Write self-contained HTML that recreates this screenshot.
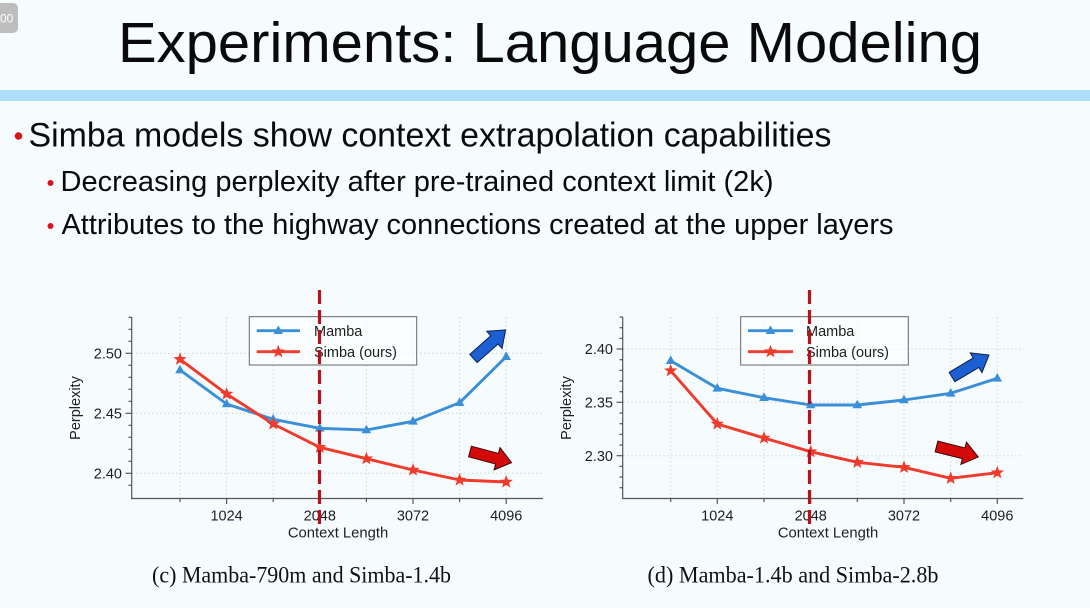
<!DOCTYPE html>
<html>
<head>
<meta charset="utf-8">
<style>
  html,body{margin:0;padding:0;background:#f6fcfe;}
  svg{display:block;}
</style>
</head>
<body>
<svg width="1090" height="608" viewBox="0 0 1090 608" xmlns="http://www.w3.org/2000/svg">
  <defs>
    <path id="star" d="M0,-7 L1.71,-2.35 L6.66,-2.16 L2.77,0.9 L4.11,5.66 L0,2.9 L-4.11,5.66 L-2.77,0.9 L-6.66,-2.16 L-1.71,-2.35 Z" fill="#ef3b2c"/>
    <path id="tri" d="M0,-5.3 L4.8,3.3 L-4.8,3.3 Z" fill="#3b8fd9"/>
    <polygon id="arrow" points="0,-5.5 28,-5.5 28,-11.5 43,0 28,11.5 28,5.5 0,5.5"/>
  </defs>
  <rect width="1090" height="608" fill="#f6fcfe"/>

  <!-- badge -->
  <rect x="-6" y="3" width="24" height="30" rx="5" fill="#bdbdbd"/>
  <text x="0" y="22.5" font-family="Liberation Sans, sans-serif" font-size="12" fill="#ffffff">00</text>

  <!-- title -->
  <text x="118" y="62" font-family="Liberation Sans, sans-serif" font-size="57" fill="#0a0a0a" textLength="864" lengthAdjust="spacingAndGlyphs">Experiments: Language Modeling</text>
  <rect x="0" y="90" width="1090" height="11" fill="#addefb"/>

  <!-- bullets -->
  <circle cx="18.5" cy="136" r="3.8" fill="#d9141b"/>
  <text x="28.5" y="146.7" font-family="Liberation Sans, sans-serif" font-size="34" fill="#0a0a0a" textLength="803" lengthAdjust="spacingAndGlyphs">Simba models show context extrapolation capabilities</text>
  <circle cx="50.5" cy="183" r="3" fill="#d9141b"/>
  <text x="60.5" y="191" font-family="Liberation Sans, sans-serif" font-size="29" fill="#0a0a0a" textLength="713" lengthAdjust="spacingAndGlyphs">Decreasing perplexity after pre-trained context limit (2k)</text>
  <circle cx="50.5" cy="226" r="3" fill="#d9141b"/>
  <text x="61.5" y="234" font-family="Liberation Sans, sans-serif" font-size="29" fill="#0a0a0a" textLength="832" lengthAdjust="spacingAndGlyphs">Attributes to the highway connections created at the upper layers</text>

  <!-- ================= LEFT CHART ================= -->
  <g font-family="Liberation Sans, sans-serif" fill="#1e1e1e">
    <g stroke="#cfd3d6" stroke-width="1" stroke-dasharray="1.5 2.5" fill="none">
      <line x1="132" y1="353.3" x2="543" y2="353.3"/>
      <line x1="132" y1="413.3" x2="543" y2="413.3"/>
      <line x1="132" y1="473.3" x2="543" y2="473.3"/>
      <line x1="180" y1="317" x2="180" y2="498"/>
      <line x1="226.6" y1="317" x2="226.6" y2="498"/>
      <line x1="273.2" y1="317" x2="273.2" y2="498"/>
      <line x1="319.8" y1="317" x2="319.8" y2="498"/>
      <line x1="366.4" y1="317" x2="366.4" y2="498"/>
      <line x1="413" y1="317" x2="413" y2="498"/>
      <line x1="459.6" y1="317" x2="459.6" y2="498"/>
      <line x1="506.2" y1="317" x2="506.2" y2="498"/>
    </g>
    <g stroke="#555" stroke-width="1.2" fill="none">
      <line x1="131.7" y1="317" x2="131.7" y2="498.8"/>
      <line x1="131.1" y1="498.5" x2="543" y2="498.5"/>
      <line x1="128.5" y1="317.3" x2="131.7" y2="317.3"/>
      <line x1="128.5" y1="329.3" x2="131.7" y2="329.3"/>
      <line x1="128.5" y1="341.3" x2="131.7" y2="341.3"/>
      <line x1="125.5" y1="353.3" x2="131.7" y2="353.3"/>
      <line x1="128.5" y1="365.3" x2="131.7" y2="365.3"/>
      <line x1="128.5" y1="377.3" x2="131.7" y2="377.3"/>
      <line x1="128.5" y1="389.3" x2="131.7" y2="389.3"/>
      <line x1="128.5" y1="401.3" x2="131.7" y2="401.3"/>
      <line x1="125.5" y1="413.3" x2="131.7" y2="413.3"/>
      <line x1="128.5" y1="425.3" x2="131.7" y2="425.3"/>
      <line x1="128.5" y1="437.3" x2="131.7" y2="437.3"/>
      <line x1="128.5" y1="449.3" x2="131.7" y2="449.3"/>
      <line x1="128.5" y1="461.3" x2="131.7" y2="461.3"/>
      <line x1="125.5" y1="473.3" x2="131.7" y2="473.3"/>
      <line x1="128.5" y1="485.3" x2="131.7" y2="485.3"/>
      <line x1="180" y1="498.5" x2="180" y2="502"/>
      <line x1="226.6" y1="498.5" x2="226.6" y2="504"/>
      <line x1="273.2" y1="498.5" x2="273.2" y2="502"/>
      <line x1="319.8" y1="498.5" x2="319.8" y2="504"/>
      <line x1="366.4" y1="498.5" x2="366.4" y2="502"/>
      <line x1="413" y1="498.5" x2="413" y2="504"/>
      <line x1="459.6" y1="498.5" x2="459.6" y2="502"/>
      <line x1="506.2" y1="498.5" x2="506.2" y2="504"/>
    </g>
    <g font-size="14.5" text-anchor="end">
      <text x="122" y="358.5">2.50</text>
      <text x="122" y="418.5">2.45</text>
      <text x="122" y="478.5">2.40</text>
    </g>
    <g font-size="14.5" text-anchor="middle">
      <text x="226.6" y="520.5">1024</text>
      <text x="319.8" y="520.5">2048</text>
      <text x="413" y="520.5">3072</text>
      <text x="506.2" y="520.5">4096</text>
      <text x="338" y="537.5" font-size="14.8">Context Length</text>
    </g>
    <text transform="translate(80,408) rotate(-90)" font-size="14.5" text-anchor="middle">Perplexity</text>

    <polyline fill="none" stroke="#3b8fd9" stroke-width="2.9" stroke-linejoin="round"
      points="180,370 226.6,404 273.2,419.3 319.8,428.3 366.4,430 413,421.3 459.6,402.7 506.2,356.7"/>
    <polyline fill="none" stroke="#ef3b2c" stroke-width="2.9" stroke-linejoin="round"
      points="180,359.3 226.6,394 273.2,424 319.8,447.3 366.4,458.7 413,470 459.6,480 506.2,482"/>
    <use href="#tri" x="180" y="370"/><use href="#tri" x="226.6" y="404"/><use href="#tri" x="273.2" y="419.3"/><use href="#tri" x="319.8" y="428.3"/>
    <use href="#tri" x="366.4" y="430"/><use href="#tri" x="413" y="421.3"/><use href="#tri" x="459.6" y="402.7"/><use href="#tri" x="506.2" y="356.7"/>
    <use href="#star" x="180" y="359.3"/><use href="#star" x="226.6" y="394"/><use href="#star" x="273.2" y="424"/><use href="#star" x="319.8" y="447.3"/>
    <use href="#star" x="366.4" y="458.7"/><use href="#star" x="413" y="470"/><use href="#star" x="459.6" y="480"/><use href="#star" x="506.2" y="482"/>

    <rect x="249.3" y="316.7" width="167.4" height="48.3" fill="#ffffff" fill-opacity="0.6" stroke="#666" stroke-width="1"/>
    <line x1="256.7" y1="330.7" x2="300" y2="330.7" stroke="#3b8fd9" stroke-width="2.9"/>
    <use href="#tri" x="278.3" y="330.7"/>
    <line x1="256.7" y1="351.7" x2="300" y2="351.7" stroke="#ef3b2c" stroke-width="2.9"/>
    <use href="#star" x="278.3" y="351.7"/>
    <text x="314" y="336" font-size="14.5">Mamba</text>
    <text x="314" y="357" font-size="14.5">Simba (ours)</text>

    <line x1="319.5" y1="290" x2="319.5" y2="529" stroke="#b5121b" stroke-width="3.2" stroke-dasharray="14 6"/>

    <use href="#arrow" transform="translate(473.5,358.5) rotate(-41.7)" fill="#1b5fd2" stroke="#0d1f4a" stroke-width="1"/>
    <use href="#arrow" transform="translate(470,451.5) rotate(15)" fill="#d40a0a" stroke="#3a0606" stroke-width="1"/>
  </g>

  <!-- ================= RIGHT CHART ================= -->
  <g font-family="Liberation Sans, sans-serif" fill="#1e1e1e">
    <g stroke="#cfd3d6" stroke-width="1" stroke-dasharray="1.5 2.5" fill="none">
      <line x1="623" y1="349" x2="1023" y2="349"/>
      <line x1="623" y1="402.3" x2="1023" y2="402.3"/>
      <line x1="623" y1="455.7" x2="1023" y2="455.7"/>
      <line x1="670.7" y1="317" x2="670.7" y2="498"/>
      <line x1="717.3" y1="317" x2="717.3" y2="498"/>
      <line x1="764" y1="317" x2="764" y2="498"/>
      <line x1="810.7" y1="317" x2="810.7" y2="498"/>
      <line x1="857.3" y1="317" x2="857.3" y2="498"/>
      <line x1="904" y1="317" x2="904" y2="498"/>
      <line x1="950.7" y1="317" x2="950.7" y2="498"/>
      <line x1="997.3" y1="317" x2="997.3" y2="498"/>
    </g>
    <g stroke="#555" stroke-width="1.2" fill="none">
      <line x1="622.7" y1="317" x2="622.7" y2="498.8"/>
      <line x1="622.1" y1="498.5" x2="1023.3" y2="498.5"/>
      <line x1="619.5" y1="317" x2="622.7" y2="317"/>
      <line x1="619.5" y1="327.7" x2="622.7" y2="327.7"/>
      <line x1="619.5" y1="338.3" x2="622.7" y2="338.3"/>
      <line x1="616.5" y1="349" x2="622.7" y2="349"/>
      <line x1="619.5" y1="359.7" x2="622.7" y2="359.7"/>
      <line x1="619.5" y1="370.3" x2="622.7" y2="370.3"/>
      <line x1="619.5" y1="381" x2="622.7" y2="381"/>
      <line x1="619.5" y1="391.7" x2="622.7" y2="391.7"/>
      <line x1="616.5" y1="402.3" x2="622.7" y2="402.3"/>
      <line x1="619.5" y1="413" x2="622.7" y2="413"/>
      <line x1="619.5" y1="423.7" x2="622.7" y2="423.7"/>
      <line x1="619.5" y1="434.3" x2="622.7" y2="434.3"/>
      <line x1="619.5" y1="445" x2="622.7" y2="445"/>
      <line x1="616.5" y1="455.7" x2="622.7" y2="455.7"/>
      <line x1="619.5" y1="466.3" x2="622.7" y2="466.3"/>
      <line x1="619.5" y1="477" x2="622.7" y2="477"/>
      <line x1="619.5" y1="487.7" x2="622.7" y2="487.7"/>
      <line x1="670.7" y1="498.5" x2="670.7" y2="502"/>
      <line x1="717.3" y1="498.5" x2="717.3" y2="504"/>
      <line x1="764" y1="498.5" x2="764" y2="502"/>
      <line x1="810.7" y1="498.5" x2="810.7" y2="504"/>
      <line x1="857.3" y1="498.5" x2="857.3" y2="502"/>
      <line x1="904" y1="498.5" x2="904" y2="504"/>
      <line x1="950.7" y1="498.5" x2="950.7" y2="502"/>
      <line x1="997.3" y1="498.5" x2="997.3" y2="504"/>
    </g>
    <g font-size="14.5" text-anchor="end">
      <text x="613" y="354.2">2.40</text>
      <text x="613" y="407.5">2.35</text>
      <text x="613" y="460.9">2.30</text>
    </g>
    <g font-size="14.5" text-anchor="middle">
      <text x="717.3" y="520.5">1024</text>
      <text x="810.7" y="520.5">2048</text>
      <text x="904" y="520.5">3072</text>
      <text x="997.3" y="520.5">4096</text>
      <text x="828" y="537.5" font-size="14.8">Context Length</text>
    </g>
    <text transform="translate(571,408) rotate(-90)" font-size="14.5" text-anchor="middle">Perplexity</text>

    <polyline fill="none" stroke="#3b8fd9" stroke-width="2.9" stroke-linejoin="round"
      points="670.7,360.7 717.3,388.3 764,397.7 810.7,405 857.3,405 904,400 950.7,393.3 997.3,378.3"/>
    <polyline fill="none" stroke="#ef3b2c" stroke-width="2.9" stroke-linejoin="round"
      points="670.7,370.7 717.3,424 764,438 810.7,451.7 857.3,462.3 904,467.3 950.7,478.3 997.3,472.7"/>
    <use href="#tri" x="670.7" y="360.7"/><use href="#tri" x="717.3" y="388.3"/><use href="#tri" x="764" y="397.7"/><use href="#tri" x="810.7" y="405"/>
    <use href="#tri" x="857.3" y="405"/><use href="#tri" x="904" y="400"/><use href="#tri" x="950.7" y="393.3"/><use href="#tri" x="997.3" y="378.3"/>
    <use href="#star" x="670.7" y="370.7"/><use href="#star" x="717.3" y="424"/><use href="#star" x="764" y="438"/><use href="#star" x="810.7" y="451.7"/>
    <use href="#star" x="857.3" y="462.3"/><use href="#star" x="904" y="467.3"/><use href="#star" x="950.7" y="478.3"/><use href="#star" x="997.3" y="472.7"/>

    <rect x="740.7" y="316.7" width="167.6" height="48.3" fill="#ffffff" fill-opacity="0.6" stroke="#666" stroke-width="1"/>
    <line x1="748" y1="330.7" x2="793" y2="330.7" stroke="#3b8fd9" stroke-width="2.9"/>
    <use href="#tri" x="770.5" y="330.7"/>
    <line x1="748" y1="351.7" x2="793" y2="351.7" stroke="#ef3b2c" stroke-width="2.9"/>
    <use href="#star" x="770.5" y="351.7"/>
    <text x="806" y="336" font-size="14.5">Mamba</text>
    <text x="806" y="357" font-size="14.5">Simba (ours)</text>

    <line x1="809.5" y1="290" x2="809.5" y2="529" stroke="#b5121b" stroke-width="3.2" stroke-dasharray="14 6"/>

    <use href="#arrow" transform="translate(952,377) rotate(-30.7)" fill="#1b5fd2" stroke="#0d1f4a" stroke-width="1"/>
    <use href="#arrow" transform="translate(936.5,446.5) rotate(14)" fill="#d40a0a" stroke="#3a0606" stroke-width="1"/>
  </g>

  <!-- captions -->
  <text x="152" y="582.5" font-family="Liberation Serif, serif" font-size="23" fill="#111" textLength="299" lengthAdjust="spacingAndGlyphs">(c) Mamba-790m and Simba-1.4b</text>
  <text x="647.5" y="582.5" font-family="Liberation Serif, serif" font-size="23" fill="#111" textLength="291" lengthAdjust="spacingAndGlyphs">(d) Mamba-1.4b and Simba-2.8b</text>
</svg>
</body>
</html>
